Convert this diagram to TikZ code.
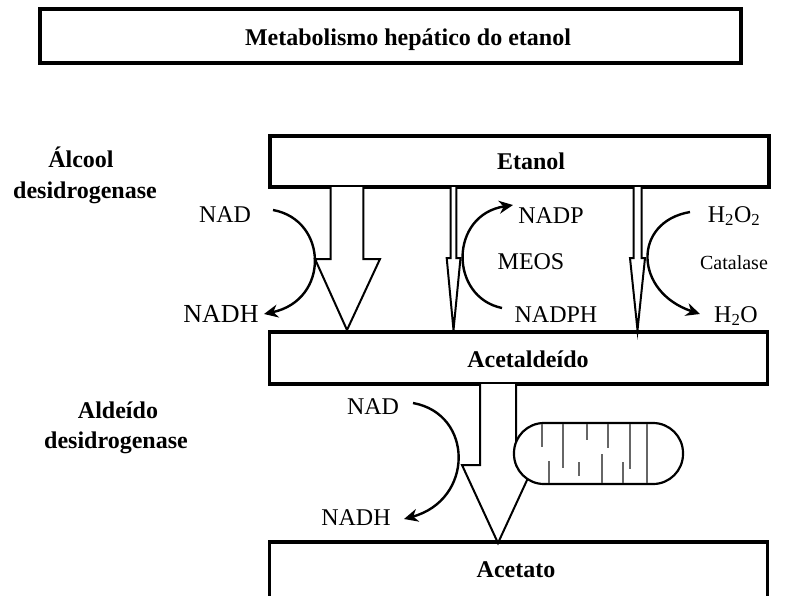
\documentclass[tikz,border=0pt]{standalone}
\usepackage{fontspec}
\setmainfont{Liberation Serif}
\usetikzlibrary{arrows.meta}
\begin{document}
\begin{tikzpicture}[x=1pt,y=-1pt,
  boxnode/.style={draw, line width=3.2pt, inner sep=0pt},
  boldlbl/.style={font=\fontsize{24}{28}\selectfont\bfseries, inner sep=0pt, anchor=base},
  lbl/.style={font=\fontsize{24}{28}\selectfont, inner sep=0pt, anchor=base},
  flowarrow/.style={draw, line width=2pt, fill=white, line join=miter},
  curvearrow/.style={line width=2.4pt, -{Stealth[length=14pt,width=13pt]}},
  crista/.style={draw=black!60, line width=2pt}]
\useasboundingbox (0,0) rectangle (789,595);
\fill[white] (0,0) rectangle (789,595);

% boxes
\node[boxnode, minimum width=701pt, minimum height=54pt] (title) at (390.5,36) {};
\node[boldlbl] (titletext) at (408,45) {Metabolismo hepático do etanol};

\node[boxnode, minimum width=499pt, minimum height=51pt] (etanol) at (519.5,161.5) {};
\node[boldlbl] (etanoltext) at (531,169) {Etanol};

\node[boxnode, minimum width=498pt, minimum height=52pt] (acetald) at (518.5,358) {};
\node[boldlbl] (acetaldtext) at (528,367) {Acetaldeído};

\node[boxnode, minimum width=498pt, minimum height=70pt] (acetato) at (518.5,577) {};
\node[boldlbl] (acetatotext) at (516,577) {Acetato};

% enzyme labels
\node[boldlbl] (adh1) at (81,167) {Álcool};
\node[boldlbl] (adh2) at (85,198) {desidrogenase};
\node[boldlbl] (aldh1) at (118,418) {Aldeído};
\node[boldlbl] (aldh2) at (116,448) {desidrogenase};

% big arrow etanol -> acetaldeido
\path[flowarrow] (330.7,187) -- (330.7,259) -- (315,259) -- (347,330) -- (380,259) -- (363.3,259) -- (363.3,187);
% MEOS thin arrow
\path[flowarrow] (450.7,187) -- (450.7,258) -- (446.7,258) -- (453.5,330) -- (460.5,258) -- (456.3,258) -- (456.3,187);
% catalase thin arrow
\path[flowarrow] (633.5,187) -- (633.5,258) -- (630,258) -- (637.5,330) -- (645,258) -- (641.5,258) -- (641.5,187);

% bottom big arrow acetaldeido -> acetato
\path[flowarrow] (480,384) -- (480,465) -- (462,465) -- (498,543) -- (534,465) -- (516,465) -- (516,384);

% mitochondrion
\draw[line width=2.2pt, fill=white, rounded corners=30pt] (514,423) rectangle (683,484);
\draw[crista] (541.7,424) -- (541.7,447);
\draw[crista] (563.3,424) -- (563.3,468);
\draw[crista] (586.7,424) -- (586.7,440);
\draw[crista] (608.3,424) -- (608.3,448);
\draw[crista] (630,424) -- (630,469);
\draw[crista] (646.7,424) -- (646.7,483);
\draw[crista] (549.3,483) -- (549.3,461);
\draw[crista] (579,462) -- (579,476);
\draw[crista] (601.7,483) -- (601.7,454);
\draw[crista] (623.3,483) -- (623.3,462);

% cofactor labels
\node[lbl] (nad1) at (225,222) {NAD};
\node[lbl, font=\fontsize{26}{30}\selectfont] (nadh1) at (221,322) {NADH};
\node[lbl] (nadp) at (551,223) {NADP};
\node[lbl] (meos) at (531,269) {MEOS};
\node[lbl] (nadph) at (556,322) {NADPH};
\node[lbl] (h2o2) at (734,222) {H\textsubscript{2}O\textsubscript{2}};
\node[lbl, font=\fontsize{20}{24}\selectfont] (catalase) at (734,269) {Catalase};
\node[lbl] (h2o) at (736,322) {H\textsubscript{2}O};
\node[lbl] (nad2) at (373,414) {NAD};
\node[lbl] (nadh2) at (356,525) {NADH};

% curved arrows
\coordinate (c1s) at (273,210);
\coordinate (c1e) at (264,314);
\draw[curvearrow] (c1s) .. controls (328,220) and (330,300) .. (c1e);
\coordinate (c2s) at (502,308);
\coordinate (c2e) at (513,205);
\draw[curvearrow] (c2s) .. controls (449,297) and (449,215) .. (c2e);
\coordinate (c3s) at (690,212);
\coordinate (c3e) at (700,314);
\draw[curvearrow] (c3s) .. controls (632,222) and (634,292) .. (c3e);
\coordinate (c4s) at (413,403);
\coordinate (c4e) at (404,519);
\draw[curvearrow] (c4s) .. controls (474,414) and (474,500) .. (c4e);
\end{tikzpicture}
\end{document}
